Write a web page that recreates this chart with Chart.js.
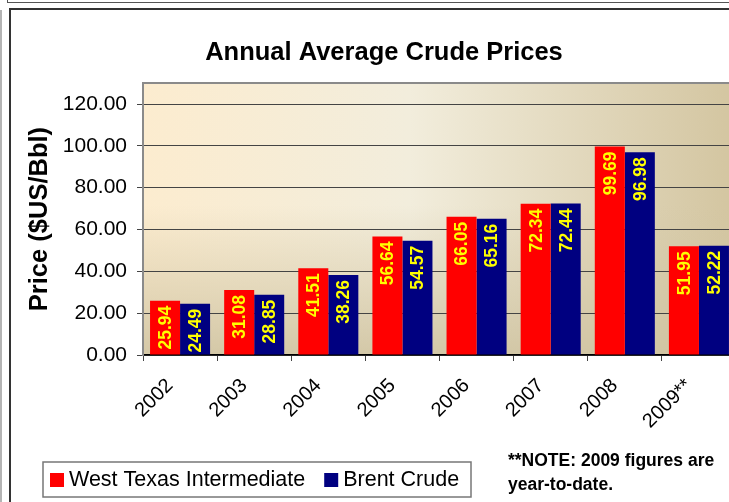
<!DOCTYPE html>
<html>
<head>
<meta charset="utf-8">
<script src="https://cdn.jsdelivr.net/npm/chart.js@4.4.1/dist/chart.umd.min.js"></script>
<style>
  html, body { margin: 0; padding: 0; background: #fff; overflow: hidden; width: 729px; height: 502px; }
  #frameTop { position: absolute; left: 7px; top: 0; width: 760px; height: 2px; border-left: 1px solid #555; border-bottom: 1px solid #555; }
  #frameLeft { position: absolute; left: 0; top: 10px; width: 2px; height: 500px; background: #b4b4b4; }
  #box { position: absolute; left: 9px; top: 8px; width: 760px; height: 520px; border: 2px solid #333; background: #fff; }
  #wrap { position: absolute; left: 11px; top: 10px; width: 746px; height: 492px; }
</style>
</head>
<body>
<div id="frameTop"></div>
<div id="frameLeft"></div>
<div id="box"></div>
<div id="wrap"><canvas id="chart"></canvas></div>
<script>
/* ── Data ─────────────────────────────────────────────── */
const years = ['2002', '2003', '2004', '2005', '2006', '2007', '2008', '2009**'];
const wtiPrices = [25.94, 31.08, 41.51, 56.64, 66.05, 72.34, 99.69, 51.95];
const brentPrices = [24.49, 28.85, 38.26, 54.57, 65.16, 72.44, 96.98, 52.22];
const yTicks = [0, 20, 40, 60, 80, 100, 120];
const seriesNames = ['West Texas Intermediate', 'Brent Crude'];
const seriesColors = ['#FF0000', '#000080'];
const noteLines = ['**NOTE: 2009 figures are', 'year-to-date.'];

const FONT = "'Liberation Sans', Arial, sans-serif";

/* ── Plot background (parchment gradient) ─────────────── */
const plotBg = {
    id: 'plotBg',
    beforeDraw(chart) {
        const { ctx, chartArea: a } = chart;
        ctx.save();
        const h = ctx.createLinearGradient(a.left, 0, a.right, 0);
        h.addColorStop(0, '#FCECCF');
        h.addColorStop(0.45, '#F2EDDC');
        h.addColorStop(1, '#D3C5A0');
        ctx.fillStyle = h;
        ctx.fillRect(a.left, a.top, a.right - a.left, a.bottom - a.top);
        const v = ctx.createLinearGradient(0, a.top, 0, a.bottom);
        v.addColorStop(0, 'rgba(208,196,162,0)');
        v.addColorStop(0.45, 'rgba(208,196,162,0)');
        v.addColorStop(1, 'rgba(208,196,162,0.9)');
        ctx.fillStyle = v;
        ctx.fillRect(a.left, a.top, a.right - a.left, a.bottom - a.top);
        ctx.restore();
    },
    beforeDatasetsDraw(chart) {
        const { ctx, chartArea: a } = chart;
        ctx.save();
        ctx.strokeStyle = '#8a8a8a';
        ctx.lineWidth = 2;
        ctx.beginPath();
        ctx.moveTo(a.left, a.top);
        ctx.lineTo(a.right, a.top);
        ctx.stroke();
        ctx.restore();
    }
};

/* ── Value labels inside bars ─────────────────────────── */
const barLabels = {
    id: 'barLabels',
    afterDatasetsDraw(chart) {
        const ctx = chart.ctx;
        ctx.save();
        ctx.fillStyle = '#FFFF00';
        ctx.font = `bold 17.5px ${FONT}`;
        ctx.textAlign = 'right';
        ctx.textBaseline = 'middle';
        chart.data.datasets.forEach((ds, i) => {
            chart.getDatasetMeta(i).data.forEach((bar, j) => {
                ctx.save();
                ctx.translate(bar.x, bar.y + 5);
                ctx.rotate(-Math.PI / 2);
                ctx.fillText(ds.data[j].toFixed(2), 0, 1);
                ctx.restore();
            });
        });
        ctx.restore();
    }
};

/* ── Boxed legend + note ──────────────────────────────── */
const legendBox = {
    id: 'legendBox',
    afterDraw(chart) {
        const ctx = chart.ctx;
        ctx.save();
        ctx.fillStyle = '#fff';
        ctx.fillRect(32, 452, 428, 35);
        ctx.strokeStyle = '#777';
        ctx.lineWidth = 1.5;
        ctx.strokeRect(32, 452, 428, 35);

        ctx.font = `21.5px ${FONT}`;
        ctx.textBaseline = 'middle';
        ctx.textAlign = 'left';
        let x = 39;
        chart.data.datasets.forEach(ds => {
            ctx.fillStyle = ds.backgroundColor;
            ctx.fillRect(x, 463, 14, 14);
            ctx.fillStyle = '#000';
            ctx.fillText(ds.label, x + 19, 470.5);
            x += 19 + ctx.measureText(ds.label).width + 19;
        });

        ctx.font = `bold 17.5px ${FONT}`;
        ctx.textBaseline = 'alphabetic';
        noteLines.forEach((t, i) => ctx.fillText(t, 497, 456 + i * 24));
        ctx.restore();
    }
};

/* ── Chart ────────────────────────────────────────────── */
new Chart(document.getElementById('chart'), {
    type: 'bar',
    data: {
        labels: years,
        datasets: [
            { label: seriesNames[0], data: wtiPrices, backgroundColor: seriesColors[0], categoryPercentage: 0.81, barPercentage: 1 },
            { label: seriesNames[1], data: brentPrices, backgroundColor: seriesColors[1], categoryPercentage: 0.81, barPercentage: 1 }
        ]
    },
    options: {
        responsive: true,
        maintainAspectRatio: false,
        animation: false,
        layout: { padding: { left: 21, right: 21, top: 0, bottom: 0 } },
        plugins: {
            legend: { display: false },
            tooltip: { enabled: false },
            title: {
                display: true,
                text: 'Annual Average Crude Prices',
                color: '#000',
                font: { family: FONT, size: 25.5, weight: 'bold', lineHeight: 1.2 },
                padding: { top: 28, bottom: 14.5 }
            }
        },
        scales: {
            x: {
                grid: { drawOnChartArea: false, drawTicks: true, tickLength: 6, color: '#444', offset: true },
                border: { display: true, color: '#000', width: 1.5 },
                ticks: {
                    maxRotation: 45, minRotation: 45, autoSkip: false,
                    color: '#000', font: { family: FONT, size: 20 }, padding: 13, labelOffset: -10
                },
                afterFit: s => { s.height = 147; }
            },
            y: {
                min: 0,
                max: 130,
                afterBuildTicks: s => { s.ticks = yTicks.map(v => ({ value: v })); },
                grid: { color: '#444', tickLength: 6 },
                border: { color: '#8a8a8a', width: 2 },
                ticks: {
                    color: '#000', font: { family: FONT, size: 21 }, padding: 10,
                    callback: v => Number(v).toFixed(2)
                },
                title: {
                    display: true,
                    text: 'Price ($US/Bbl)',
                    color: '#000',
                    font: { family: FONT, size: 25.5, weight: 'bold', lineHeight: 1.2 },
                    padding: { top: -7.3, bottom: 0 }
                },
                afterFit: s => { s.width = 111; }
            }
        }
    },
    plugins: [plotBg, barLabels, legendBox]
});
</script>
</body>
</html>
